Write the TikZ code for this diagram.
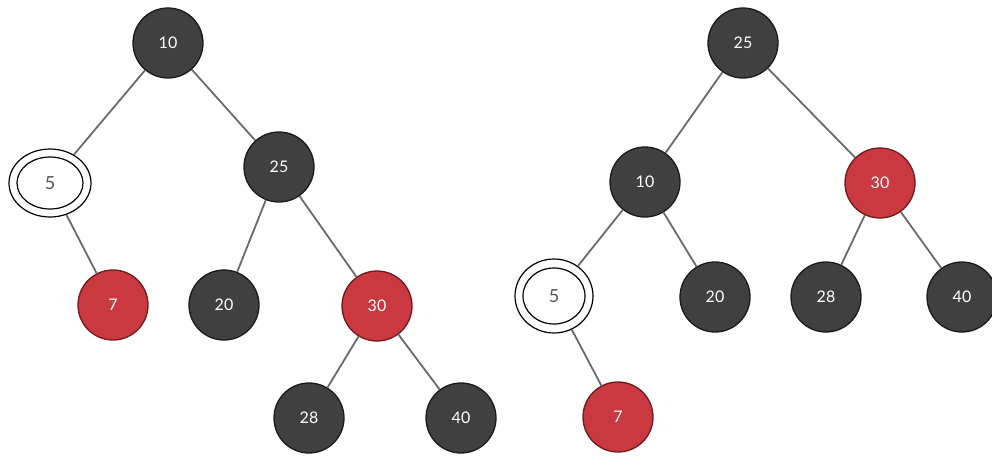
\documentclass[tikz,border=0pt]{standalone}
\usepackage{fontspec}
\setmainfont{Lato}
\usetikzlibrary{shapes.geometric}
\definecolor{nodegray}{HTML}{404040}
\definecolor{nodeedge}{HTML}{1A1A1A}
\definecolor{nodered}{HTML}{C9393F}
\definecolor{rededge}{HTML}{6E1A1E}
\definecolor{linkgray}{HTML}{6A6A6A}
\definecolor{txtgray}{HTML}{555555}
\begin{document}
\begin{tikzpicture}[x=1pt,y=-1pt,
  blk/.style={circle,minimum size=70pt,inner sep=0pt,fill=nodegray,draw=nodeedge,line width=1.3pt,text=white,font=\fontsize{16}{16}\selectfont},
  rd/.style={circle,minimum size=70pt,inner sep=0pt,fill=nodered,draw=rededge,line width=1.3pt,text=white,font=\fontsize{16}{16}\selectfont},
  dbl/.style={ellipse,inner sep=0pt,draw=black,line width=1.2pt,text=txtgray,font=\fontsize{18}{18}\selectfont},
  link/.style={draw=linkgray,line width=1.8pt}]
\useasboundingbox (0,0) rectangle (992,458);
% left tree
\node[blk] (a10) at (168,43) {10};
\node[dbl,minimum width=82pt,minimum height=68pt] (a5) at (50,183) {5};
\draw[black,line width=1.2pt] (a5.center) ellipse [x radius=33pt,y radius=26pt];
\node[rd] (a7) at (113,305) {7};
\node[blk] (a25) at (279,167) {25};
\node[blk] (a20) at (224,305) {20};
\node[rd] (a30) at (377,306) {30};
\node[blk] (a28) at (309,418) {28};
\node[blk] (a40) at (461,418) {40};
% right tree
\node[blk] (b25) at (743,43) {25};
\node[blk] (b10) at (645,182) {10};
\node[rd] (b30) at (880,183) {30};
\node[dbl,minimum width=78pt,minimum height=74pt] (b5) at (554,296) {5};
\draw[black,line width=1.2pt] (b5.center) ellipse [x radius=31pt,y radius=28pt];
\node[blk] (b20) at (715,297) {20};
\node[blk] (b28) at (826,297) {28};
\node[blk] (b40) at (962,297) {40};
\node[rd] (b7) at (618,417) {7};
% links
\draw[link] (a10) -- (a5);
\draw[link] (a10) -- (a25);
\draw[link] (a5) -- (a7);
\draw[link] (a25) -- (a20);
\draw[link] (a25) -- (a30);
\draw[link] (a30) -- (a28);
\draw[link] (a30) -- (a40);
\draw[link] (b25) -- (b10);
\draw[link] (b25) -- (b30);
\draw[link] (b10) -- (b5);
\draw[link] (b10) -- (b20);
\draw[link] (b30) -- (b28);
\draw[link] (b30) -- (b40);
\draw[link] (b5) -- (b7);
\end{tikzpicture}
\end{document}
